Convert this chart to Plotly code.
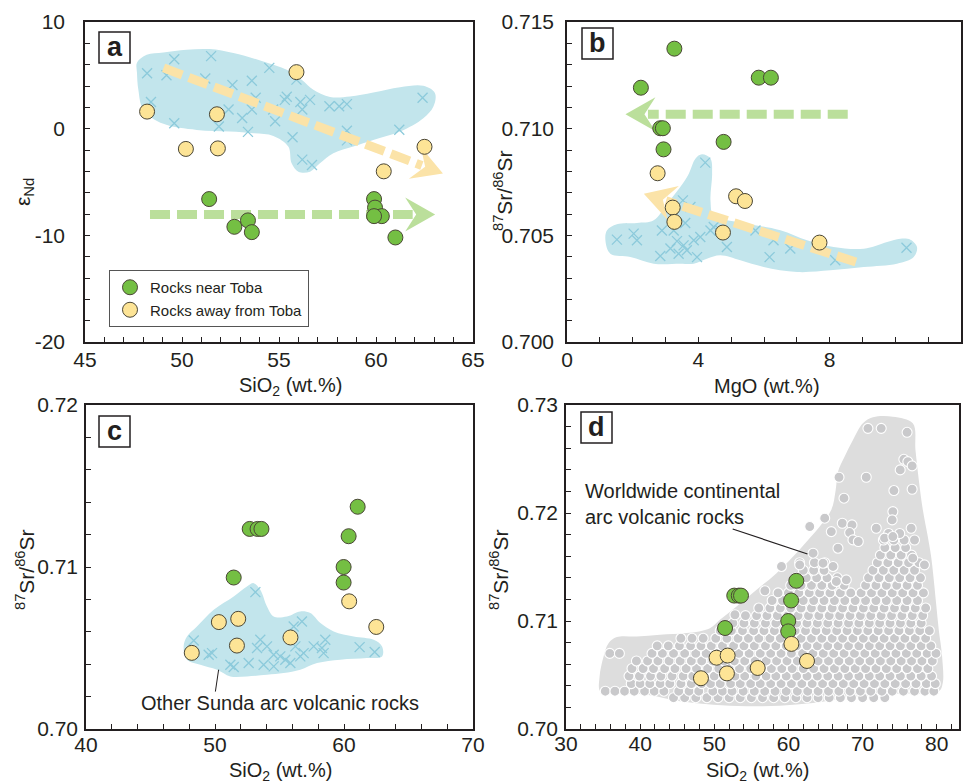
import math
import plotly.graph_objects as go

W, H = 969, 783
FONT = "Liberation Sans, Arial, sans-serif"
INK = "#231f20"

# ---------------- DATA ----------------
# Panel a : SiO2 vs eNd
a_near_sio2 = [51.4, 52.7, 53.4, 53.6, 59.9, 59.95, 60.3, 59.9, 61.0]
a_near_end = [-6.6, -9.2, -8.6, -9.7, -6.6, -7.4, -8.2, -8.2, -10.2]
a_away_sio2 = [48.2, 50.2, 51.8, 51.85, 55.9, 60.4, 62.5]
a_away_end = [1.6, -1.9, 1.35, -1.85, 5.3, -4.0, -1.7]
a_sunda_sio2 = [48.2, 49.2, 49.6, 51.5, 51.2, 52.6, 53.6, 54.5, 55.9, 48.4, 49.6, 51.9, 52.4,
                53.1, 53.6, 53.8, 54.7, 55.3, 55.4, 56.1, 56.6, 56.2, 57.6, 58.1, 58.5, 54.8,
                53.4, 55.7, 56.2, 56.7, 58.5, 61.2, 62.4, 58.5]
a_sunda_end = [5.2, 5.0, 6.5, 6.8, 4.7, 4.1, 4.5, 5.7, 4.6, 2.5, 0.5, 0.2, 1.8,
               1.0, 1.8, 2.9, 1.8, 2.7, 3.0, 2.5, 2.7, 1.8, 2.1, 2.1, 2.3, 0.7,
               -0.3, -0.8, -2.9, -3.4, -0.2, -0.1, 2.9, -1.1]
a_field_sio2 = [47.68, 48.18, 49.04, 50.24, 51.44, 52.65, 54.19, 55.40, 56.17, 56.77, 57.63,
                58.66, 59.86, 61.24, 62.44, 63.04, 62.96, 62.44, 61.24, 59.86, 58.83, 57.80,
                57.11, 56.60, 56.00, 55.65, 55.48, 54.71, 53.68, 52.47, 50.76, 49.04, 48.01,
                47.75, 47.68]
a_field_end = [6.18, 6.93, 7.15, 7.40, 7.46, 7.09, 6.30, 5.52, 4.58, 3.64, 2.98,
               3.02, 3.39, 3.89, 4.02, 3.33, 2.08, 0.98, -0.27, -1.06, -1.68, -2.31,
               -3.25, -4.03, -4.03, -3.25, -1.68, -0.68, -0.43, -0.27, -0.12, 0.45, 1.76,
               3.64, 5.21]
a_arrow_yellow = dict(x=[49.05, 63.45], y=[5.7, -4.2])
a_arrow_green = dict(x=[48.35, 63.05], y=[-8.05, -8.05])

# Panel b : MgO vs 87Sr/86Sr
b_near_mgo = [3.27, 2.25, 5.84, 6.21, 2.84, 2.92, 2.94, 4.77]
b_near_sr = [0.71375, 0.71192, 0.71239, 0.71239, 0.71002, 0.71002, 0.70903, 0.70938]
b_away_mgo = [2.76, 3.22, 3.27, 5.15, 5.42, 4.75, 7.69]
b_away_sr = [0.70791, 0.70630, 0.70563, 0.70683, 0.70661, 0.70513, 0.70466]
b_sunda_mgo = [4.21, 3.53, 3.76, 3.60, 2.89, 2.03, 2.13, 1.52, 2.84, 3.15, 3.40, 3.55, 3.86,
               3.96, 4.37, 4.47, 4.67, 4.87, 5.74, 6.29, 6.17, 6.80, 8.17, 10.34, 3.25, 4.06,
               3.65, 3.35]
b_sunda_sr = [0.70841, 0.70664, 0.70633, 0.70558, 0.70523, 0.70508, 0.70477, 0.70480, 0.70403,
              0.70438, 0.70414, 0.70453, 0.70477, 0.70398, 0.70523, 0.70539, 0.70523, 0.70445,
              0.70523, 0.70477, 0.70398, 0.70438, 0.70383, 0.70442, 0.70523, 0.70492, 0.70430,
              0.70473]
b_field_mgo = [1.17, 1.22, 1.52, 2.13, 2.64, 3.05, 3.45, 3.71, 3.91, 4.11, 4.37, 4.42, 4.37,
               4.47, 4.87, 5.48, 6.50, 7.31, 8.12, 9.04, 9.75, 10.15, 10.46, 10.66, 10.56,
               10.05, 9.04, 8.02, 7.01, 5.99, 5.28, 4.67, 4.26, 3.86, 3.45, 2.64, 1.93, 1.32]
b_field_sr = [0.704766, 0.705234, 0.705516, 0.705578, 0.705703, 0.706484, 0.707266, 0.707891,
              0.708594, 0.708797, 0.708594, 0.707891, 0.706641, 0.705859, 0.705703, 0.705547,
              0.705234, 0.704766, 0.704453, 0.704375, 0.704688, 0.704844, 0.704797, 0.704453,
              0.703984, 0.703672, 0.703516, 0.703359, 0.703281, 0.703516, 0.703828, 0.704063,
              0.703906, 0.703672, 0.703672, 0.703672, 0.703984, 0.704141]
b_arrow_green = dict(x=[8.55, 1.78], y=[0.71067, 0.71067])
b_arrow_yellow = dict(x=[8.8, 2.34], y=[0.70375, 0.70695])

# Panels c and d : SiO2 vs 87Sr/86Sr
cd_near_sio2 = [51.45, 52.69, 53.30, 53.60, 59.97, 59.97, 60.36, 61.06]
cd_near_sr = [0.70935, 0.71235, 0.71235, 0.71235, 0.71000, 0.70904, 0.71190, 0.71372]
cd_away_sio2 = [48.2, 50.3, 51.8, 51.7, 55.85, 60.4, 62.5]
cd_away_sr = [0.70470, 0.70660, 0.70680, 0.70515, 0.70565, 0.70788, 0.70630]
c_sunda_sio2 = [53.13, 48.35, 49.51, 49.77, 51.19, 52.61, 53.26, 53.51, 53.77, 54.55, 54.55,
                55.06, 55.45, 55.84, 56.23, 56.10, 56.74, 56.61, 56.87, 57.65, 58.29, 58.55,
                58.42, 61.21, 62.38, 51.45, 54.03]
c_sunda_sr = [0.708448, 0.705467, 0.704584, 0.704686, 0.703967, 0.704070, 0.704995, 0.705509,
              0.703967, 0.704584, 0.703864, 0.704481, 0.704276, 0.704070, 0.705098, 0.706331,
              0.706639, 0.704481, 0.704686, 0.705098, 0.704995, 0.705509, 0.704686, 0.705056,
              0.704748, 0.703823, 0.705098]
c_field_sio2 = [47.57, 47.83, 48.60, 49.90, 51.45, 52.48, 53.00, 53.51, 54.03, 54.55, 55.58,
                56.61, 57.39, 58.17, 59.20, 60.75, 62.30, 62.95, 62.95, 61.78, 59.72, 57.91,
                56.61, 55.32, 54.03, 52.48, 51.19, 50.16, 48.86, 47.83]
c_field_sr = [0.705098, 0.705714, 0.706331, 0.707359, 0.708181, 0.708798, 0.709003, 0.708592,
              0.707564, 0.706947, 0.706947, 0.707256, 0.707153, 0.706537, 0.706023, 0.705714,
              0.705509, 0.705098, 0.704481, 0.704378, 0.704276, 0.704070, 0.703659, 0.703453,
              0.703350, 0.703248, 0.703248, 0.703659, 0.703967, 0.704276]

# Panel d : worldwide continental arc field and samples
d_field_sio2 = [34.62, 34.53, 35.07, 35.74, 36.86, 39.55, 42.69, 46.28, 49.42, 50.76, 53.00,
                55.70, 58.39, 60.63, 62.65, 64.22, 65.78, 66.37, 66.68, 67.58, 68.70, 70.04,
                71.39, 74.08, 76.77, 77.13, 77.58, 78.12, 78.79, 79.24, 79.55, 79.91, 80.27,
                80.72, 80.81, 80.27, 74.53, 67.80, 63.32, 58.83, 54.35, 49.87, 45.38, 40.90,
                36.41]
d_field_sr = [0.70348, 0.70487, 0.70672, 0.70795, 0.70851, 0.70857, 0.70873, 0.70888, 0.70934,
              0.71011, 0.71135, 0.71289, 0.71443, 0.71597, 0.71751, 0.71875, 0.72029, 0.72214,
              0.72383, 0.72522, 0.72676, 0.72830, 0.72886, 0.72892, 0.72830, 0.72584, 0.72306,
              0.72029, 0.71782, 0.71597, 0.71412, 0.71165, 0.70919, 0.70672, 0.70425, 0.70348,
              0.70327, 0.70287, 0.70240, 0.70216, 0.70210, 0.70225, 0.70256, 0.70318, 0.70327]
world_sparse_sio2 = [70.72, 72.51, 76.0, 75.56, 76.10, 76.68, 75.07, 66.82, 70.49, 76.68, 74.22,
                     67.49, 64.89, 67.26, 68.57, 74.08, 73.99, 62.87, 71.84, 76.55, 65.78, 68.25,
                     68.70, 69.42, 72.96, 74.08, 66.68, 63.32, 61.52, 64.66, 66.01, 59.06, 78.34,
                     76.77, 56.82, 52.78, 66.46, 67.80]
world_sparse_sr = [0.72784, 0.72784, 0.72747, 0.72497, 0.72476, 0.72436, 0.72399, 0.72331,
                   0.72331, 0.72220, 0.72208, 0.72137, 0.71952, 0.71905, 0.71890, 0.72013,
                   0.71936, 0.71875, 0.71859, 0.71859, 0.71828, 0.71819, 0.71751, 0.71736,
                   0.71767, 0.71782, 0.71674, 0.71628, 0.71520, 0.71535, 0.71505, 0.71505,
                   0.71520, 0.71582, 0.71280, 0.71058, 0.71366, 0.71381]
world_dense_rows = [
    (0.7029, [44.5, 46.0, 47.5, 49.0, 50.5, 52.0, 53.5, 55.0, 56.5, 58.0, 59.5, 61.0, 62.5,
              64.0, 65.5, 67.0, 68.5, 70.0, 71.5, 73.0]),
    (0.7035, [35.3, 36.6, 37.9, 39.2, 40.6, 41.9, 43.2, 45.2, 46.6, 47.9, 49.8, 51.1, 52.4,
              53.9, 55.4, 56.8, 58.2, 59.7, 61.2, 62.6, 64.0, 65.4, 66.8, 68.3, 69.7, 71.1,
              72.6, 74.0, 75.5, 77.0, 78.4, 79.6]),
    (0.7042, [38.8, 40.0, 41.3, 42.7, 44.0, 45.5, 46.9, 48.3, 49.5, 50.8, 52.2, 53.5, 54.9,
              56.2, 57.6, 59.0, 60.4, 61.8, 63.2, 64.6, 66.0, 67.4, 68.8, 70.2, 71.6, 73.0,
              74.4, 75.8, 77.2, 78.6, 79.8]),
    (0.7049, [38.5, 39.9, 41.4, 42.8, 44.3, 45.8, 47.1, 48.6, 50.0, 51.3, 52.8, 54.1, 55.6,
              57.0, 58.3, 59.7, 61.1, 62.5, 63.9, 65.3, 66.7, 68.1, 69.5, 70.9, 72.3, 73.7,
              75.1, 76.5, 77.9, 79.3]),
    (0.7056, [38.9, 40.4, 41.8, 43.3, 44.7, 46.2, 47.6, 49.1, 50.6, 52.0, 53.4, 54.9, 56.3,
              57.7, 59.1, 60.5, 62.0, 63.4, 64.8, 66.2, 67.6, 69.0, 70.4, 71.8, 73.2, 74.6,
              76.0, 77.4, 78.8]),
    (0.7063, [39.5, 41.0, 42.4, 43.9, 45.4, 46.9, 48.3, 49.8, 51.3, 52.7, 54.1, 55.5, 57.0,
              58.4, 59.8, 61.2, 62.6, 64.0, 65.4, 66.8, 68.2, 69.6, 71.0, 72.4, 73.8, 75.2,
              76.6, 78.0, 79.4]),
    (0.7070, [35.9, 37.2, 41.6, 43.0, 44.5, 46.0, 47.5, 48.9, 50.4, 51.8, 53.3, 54.7, 56.2,
              57.6, 59.0, 60.4, 61.9, 63.3, 64.7, 66.1, 67.5, 68.9, 70.3, 71.7, 73.1, 74.5,
              75.9, 77.3, 78.7, 79.9]),
    (0.7077, [42.3, 43.8, 45.3, 46.8, 48.2, 49.6, 51.1, 52.6, 54.0, 55.4, 56.9, 58.3, 59.7,
              61.1, 62.5, 63.9, 65.3, 66.7, 68.1, 69.5, 70.9, 72.3, 73.7, 75.1, 76.5, 77.9,
              79.2]),
    (0.7084, [45.5, 47.0, 48.5, 50.2, 51.7, 53.2, 54.6, 56.0, 57.5, 58.9, 60.3, 61.7, 63.1,
              64.5, 65.9, 67.3, 68.7, 70.1, 71.5, 72.9, 74.3, 75.7, 77.1, 78.5]),
    (0.7091, [50.8, 52.3, 53.8, 55.3, 56.7, 58.1, 59.5, 60.9, 62.3, 63.7, 65.1, 66.5, 67.9,
              69.3, 70.7, 72.1, 73.5, 74.9, 76.3, 77.7, 79.0]),
    (0.7098, [52.5, 54.0, 55.4, 56.9, 58.3, 59.7, 61.1, 62.5, 63.9, 65.3, 66.7, 68.1, 69.5,
              70.9, 72.3, 73.7, 75.1, 76.5, 77.9]),
    (0.7105, [54.2, 55.7, 57.1, 58.5, 59.9, 61.3, 62.7, 64.1, 65.5, 66.9, 68.3, 69.7, 71.1,
              72.5, 73.9, 75.3, 76.7, 78.1]),
    (0.7112, [56.0, 57.5, 58.9, 60.3, 61.7, 63.1, 64.5, 65.9, 67.3, 68.7, 70.1, 71.5, 72.9,
              74.3, 75.7, 77.1, 78.5]),
    (0.7119, [57.8, 59.2, 60.6, 62.0, 63.4, 64.8, 66.2, 67.6, 69.0, 70.4, 71.8, 73.2, 74.6,
              76.0, 77.4]),
    (0.7126, [58.6, 60.0, 61.4, 62.8, 64.2, 65.6, 67.0, 68.4, 69.8, 71.2, 72.6, 74.0, 75.4,
              76.8, 78.2]),
    (0.7133, [60.3, 61.7, 63.1, 64.5, 65.9, 67.5, 70.4, 71.8, 73.2, 74.6, 76.0, 77.4]),
    (0.7140, [61.0, 62.4, 63.8, 65.2, 66.6, 70.8, 72.2, 73.6, 75.0, 76.4, 77.8]),
    (0.7147, [62.0, 63.4, 64.8, 71.4, 72.8, 74.2, 75.6, 77.0]),
    (0.7154, [61.5, 63.5, 64.9, 72.0, 73.4, 74.8, 76.2, 77.6]),
    (0.7161, [72.4, 73.8, 75.2, 76.6]),
    (0.7168, [73.0, 74.4, 75.8]),
    (0.7175, [72.8, 74.2, 75.6, 77.0]),
    (0.7181, [73.5, 75.0]),
]

# ---------------- LAYOUT GEOMETRY (pixels) ----------------
PANELS = {
    "a": dict(px=(85, 473), py=(22, 342), xr=(45, 65), yr=(-20, 10), n=""),
    "b": dict(px=(567, 961), py=(22, 342), xr=(0, 12), yr=(0.700, 0.715), n="2"),
    "c": dict(px=(86, 473), py=(405, 729), xr=(40, 70), yr=(0.70, 0.72), n="3"),
    "d": dict(px=(566, 959), py=(405, 729), xr=(30, 83), yr=(0.70, 0.73), n="4"),
}

GREEN = "#74bf43"
YELLOW = "#fde496"
EDGE = "#4a4636"
BLUE_FIELD = "#c2e5ec"
BLUE_X = "#8ccadb"
ARROW_G = "#bbdf9b"
ARROW_Y = "#fbe3a8"

fig = go.Figure()


def refs(p):
    n = PANELS[p]["n"]
    return "x" + n, "y" + n


def add_field(p, xs, ys, color):
    xr, yr = refs(p)
    fig.add_trace(go.Scatter(x=xs + xs[:1], y=ys + ys[:1], mode="lines", fill="toself",
                             fillcolor=color, line=dict(width=0, shape="spline", smoothing=1),
                             hoverinfo="skip", showlegend=False, xaxis=xr, yaxis=yr))


def add_crosses(p, xs, ys):
    xr, yr = refs(p)
    fig.add_trace(go.Scatter(x=xs, y=ys, mode="markers",
                             marker=dict(symbol="x-thin", size=10,
                                         line=dict(width=1.3, color=BLUE_X)),
                             showlegend=False, xaxis=xr, yaxis=yr))


def add_samples(p, xs, ys, color, name, legend=False):
    xr, yr = refs(p)
    fig.add_trace(go.Scatter(x=xs, y=ys, mode="markers", name=name,
                             marker=dict(size=15, color=color, line=dict(width=1, color=EDGE)),
                             showlegend=legend, xaxis=xr, yaxis=yr))


def scales(p):
    P = PANELS[p]
    sx = (P["px"][1] - P["px"][0]) / (P["xr"][1] - P["xr"][0])
    sy = (P["py"][1] - P["py"][0]) / (P["yr"][1] - P["yr"][0])
    return sx, sy


def to_px(p, x, y):
    P = PANELS[p]
    sx, sy = scales(p)
    return (x - P["xr"][0]) * sx, -(y - P["yr"][0]) * sy


def to_data(p, X, Y):
    P = PANELS[p]
    sx, sy = scales(p)
    return P["xr"][0] + X / sx, P["yr"][0] - Y / sy


def add_arrow(p, spec, color, L=30, Wd=17, notch=11):
    """Dashed shaft plus a notched arrowhead, built from the arrow's own end points."""
    xr, yr = refs(p)
    (x0, x1), (y0, y1) = spec["x"], spec["y"]
    S = to_px(p, x0, y0)
    T = to_px(p, x1, y1)
    dx, dy = T[0] - S[0], T[1] - S[1]
    ln = math.hypot(dx, dy)
    u = (dx / ln, dy / ln)
    nrm = (-u[1], u[0])
    E = (T[0] - 0.75 * L * u[0], T[1] - 0.75 * L * u[1])
    ex, ey = to_data(p, *E)
    fig.add_trace(go.Scatter(x=[x0, ex], y=[y0, ey], mode="lines",
                             line=dict(color=color, width=9, dash="20px,7px"),
                             hoverinfo="skip", showlegend=False, xaxis=xr, yaxis=yr))
    B = (T[0] - L * u[0], T[1] - L * u[1])
    pts = [
        (B[0] + Wd * nrm[0], B[1] + Wd * nrm[1]),
        T,
        (B[0] - Wd * nrm[0], B[1] - Wd * nrm[1]),
        (B[0] + notch * u[0], B[1] + notch * u[1]),
    ]
    dpts = [to_data(p, *q) for q in pts]
    fig.add_trace(go.Scatter(x=[q[0] for q in dpts] + [dpts[0][0]],
                             y=[q[1] for q in dpts] + [dpts[0][1]],
                             mode="lines", fill="toself", fillcolor=color,
                             line=dict(width=0), hoverinfo="skip", showlegend=False,
                             xaxis=xr, yaxis=yr))


# ---- panel a ----
add_field("a", a_field_sio2, a_field_end, BLUE_FIELD)
add_crosses("a", a_sunda_sio2, a_sunda_end)
add_arrow("a", a_arrow_yellow, ARROW_Y)
add_arrow("a", a_arrow_green, ARROW_G)
add_samples("a", a_near_sio2, a_near_end, GREEN, "Rocks near Toba", True)
add_samples("a", a_away_sio2, a_away_end, YELLOW, "Rocks away from Toba", True)

# ---- panel b ----
add_field("b", b_field_mgo, b_field_sr, BLUE_FIELD)
add_crosses("b", b_sunda_mgo, b_sunda_sr)
add_arrow("b", b_arrow_green, ARROW_G)
add_arrow("b", b_arrow_yellow, ARROW_Y, L=31, Wd=18)
add_samples("b", b_near_mgo, b_near_sr, GREEN, "near")
add_samples("b", b_away_mgo, b_away_sr, YELLOW, "away")

# ---- panel c ----
add_field("c", c_field_sio2, c_field_sr, BLUE_FIELD)
add_crosses("c", c_sunda_sio2, c_sunda_sr)
add_samples("c", cd_near_sio2, cd_near_sr, GREEN, "near")
add_samples("c", cd_away_sio2, cd_away_sr, YELLOW, "away")

# ---- panel d ----
add_field("d", d_field_sio2, d_field_sr, "#dddddd")
wx, wy = [], []
for yv, xs in world_dense_rows:
    wx += xs
    wy += [yv] * len(xs)
wx += world_sparse_sio2
wy += world_sparse_sr
fig.add_trace(go.Scatter(x=wx, y=wy, mode="markers",
                         marker=dict(size=10, color="#c9c9cb", line=dict(width=1.1, color="white")),
                         showlegend=False, xaxis="x4", yaxis="y4"))
add_samples("d", cd_near_sio2, cd_near_sr, GREEN, "near")
add_samples("d", cd_away_sio2, cd_away_sr, YELLOW, "away")

# ---------------- AXES ----------------
TICKS = {
    "a": dict(x=(45, 65, 1, 5, 0), y=(-20, 10, 2, 10, 0), xs=-2, ys=14),
    "b": dict(x=(0, 12, 1, 4, 0), y=(0.700, 0.715, 0.001, 0.005, 3), xs=-2, ys=7),
    "c": dict(x=(40, 70, 2, 10, 0), y=(0.70, 0.72, 0.002, 0.01, 2), xs=-4, ys=2),
    "d": dict(x=(30, 82, 2, 10, 0), y=(0.70, 0.73, 0.002, 0.01, 2), xs=-5, ys=2),
}


def tick_lists(lo, hi, step, major, dec):
    n = int(round((hi - lo) / step))
    mv, mt, minor = [], [], []
    for i in range(n + 1):
        v = round(lo + i * step, 6)
        r = round(v / major)
        if abs(v - r * major) < step * 0.01:
            mv.append(v)
            mt.append(str(int(round(v))) if dec == 0 else f"{v:.{dec}f}")
        else:
            minor.append(v)
    return mv, mt, minor


layout_axes = {}
for p, P in PANELS.items():
    n = P["n"]
    T = TICKS[p]
    xv, xt, xm = tick_lists(*T["x"])
    yv, yt, ym = tick_lists(*T["y"])
    common = dict(showline=True, linecolor=INK, linewidth=1.5, mirror=True, ticks="inside",
                  ticklen=5, tickwidth=1.2, tickcolor=INK, showgrid=False, zeroline=False,
                  automargin=False, tickmode="array",
                  tickfont=dict(size=21, color=INK, family=FONT))
    layout_axes["xaxis" + n] = dict(common, domain=[P["px"][0] / W, P["px"][1] / W],
                                    range=list(P["xr"]), tickvals=xv, ticktext=xt,
                                    minor=dict(tickmode="array", tickvals=xm, ticks="inside",
                                               ticklen=5, tickwidth=1.2, tickcolor=INK,
                                               showgrid=False),
                                    anchor="y" + n, ticklabelstandoff=T["xs"])
    layout_axes["yaxis" + n] = dict(common, domain=[1 - P["py"][1] / H, 1 - P["py"][0] / H],
                                    range=list(P["yr"]), tickvals=yv, ticktext=yt,
                                    minor=dict(tickmode="array", tickvals=ym, ticks="inside",
                                               ticklen=5, tickwidth=1.2, tickcolor=INK,
                                               showgrid=False),
                                    anchor="x" + n, ticklabelstandoff=T["ys"])
fig.update_layout(**layout_axes)

# ---------------- ANNOTATIONS ----------------
ann = []
shapes = []


def ptext(px, py, text, size=21, angle=0, **kw):
    ann.append(dict(x=px / W, y=1 - py / H, xref="paper", yref="paper", text=text,
                    showarrow=False, textangle=angle, xanchor="center", yanchor="middle",
                    font=dict(size=size, color=INK, family=FONT), **kw))


ptext(24, 192, "ε<sub>Nd</sub>", 21, -90)
ptext(290, 386, "SiO<sub>2</sub> (wt.%)", 20)
ptext(503, 190, "<sup>87</sup>Sr/<sup>86</sup>Sr", 21, -90)
ptext(767, 386, "MgO (wt.%)", 20)
ptext(25, 570, "<sup>87</sup>Sr/<sup>86</sup>Sr", 21, -90)
ptext(280, 771, "SiO<sub>2</sub> (wt.%)", 20)
ptext(499, 570, "<sup>87</sup>Sr/<sup>86</sup>Sr", 21, -90)
ptext(757, 771, "SiO<sub>2</sub> (wt.%)", 20)

for lab, (x0, y0) in {"a": (99, 32), "b": (582, 28), "c": (99, 416), "d": (581, 412)}.items():
    shapes.append(dict(type="rect", xref="paper", yref="paper", x0=x0 / W, x1=(x0 + 31) / W,
                       y0=1 - (y0 + 31) / H, y1=1 - y0 / H,
                       line=dict(color=INK, width=1.5), fillcolor="white"))
    ptext(x0 + 15.5, y0 + 15, "<b>" + lab + "</b>", 27)

ann.append(dict(x=55.0, y=0.7016, xref="x3", yref="y3", text="Other Sunda arc volcanic rocks",
                showarrow=False, xanchor="center", yanchor="middle",
                font=dict(size=20, color=INK, family=FONT)))
shapes.append(dict(type="line", xref="x3", yref="y3", x0=50.28, y0=0.70366, x1=50.03, y1=0.70231,
                   line=dict(color=INK, width=1)))
ann.append(dict(x=32.3, y=0.7232, xref="x4", yref="y4", xanchor="left", yanchor="top", align="left",
                text="Worldwide continental<br>arc volcanic rocks", showarrow=False,
                font=dict(size=20, color=INK, family=FONT)))
shapes.append(dict(type="line", xref="x4", yref="y4", x0=52.48, y0=0.71852, x1=62.57, y1=0.71620,
                   line=dict(color=INK, width=1.2)))

fig.update_layout(
    width=W, height=H, margin=dict(l=0, r=0, t=0, b=0, autoexpand=False),
    paper_bgcolor="white", plot_bgcolor="white",
    annotations=ann, shapes=shapes,
    legend=dict(x=109 / W, y=1 - 270 / H, xanchor="left", yanchor="top",
                bgcolor="white", bordercolor="#555555", borderwidth=1,
                font=dict(size=15, color=INK, family=FONT), itemsizing="trace",
                tracegroupgap=0),
    font=dict(family=FONT, color=INK),
)

fig.write_html("out.html")
